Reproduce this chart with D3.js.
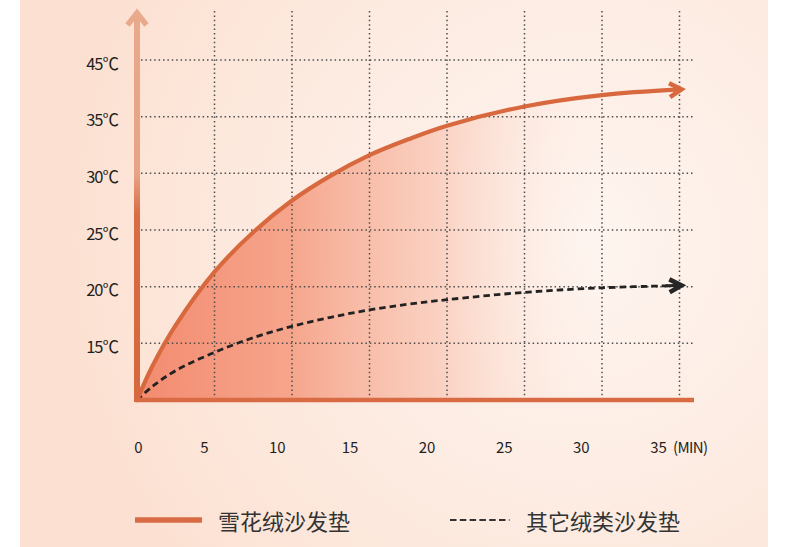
<!DOCTYPE html>
<html>
<head>
<meta charset="utf-8">
<script src="https://cdn.jsdelivr.net/npm/d3@7"></script>
<style>
  html, body { margin: 0; padding: 0; background: #fff; }
  svg { display: block; }
</style>
</head>
<body>
<svg id="chart" width="790" height="547"></svg>
<script>
// Heating time (minutes) and surface temperature (°C) for two sofa pads
const minutes    = [0, 1, 2.5, 5, 7.5, 10, 12.5, 15, 17.5, 20, 25, 30, 35];
const plushTemps = [10, 13.0, 16.6, 21.3, 24.8, 27.6, 29.8, 31.6, 33.0, 34.2, 35.9, 36.9, 37.4];
const otherTemps = [10, 11.2, 12.6, 14.2, 15.5, 16.5, 17.3, 17.95, 18.45, 18.85, 19.5, 19.9, 20.1];

const seriesNames = ["雪花绒沙发垫", "其它绒类沙发垫"];

const xTickValues = [0, 5, 10, 15, 20, 25, 30, 35];
const xTickLabels = ["0", "5", "10", "15", "20", "25", "30", "35"];
const xUnitLabel  = "(MIN)";

const yTickValues = [15, 20, 25, 30, 35, 40];
const yTickLabels = ["15℃", "20℃", "25℃", "30℃", "35℃", "45℃"];

const svg = d3.select("#chart");
const defs = svg.append("defs");
const FONT = "'Noto Sans CJK SC', 'Noto Sans', sans-serif";
const ORANGE = "#d8693f";
const TEXT = "#1f1f1f";

// Scales
const x = d3.scaleLinear().domain([0, 35]).range([137, 679.5]);
const y = d3.scaleLinear().domain([10, 40]).range([400, 60]);
// Minute labels sit slightly left of their gridlines and spread unevenly
const xLabel = d3.scaleLinear().domain([0, 5, 15, 35]).range([138, 204, 349.5, 658]);

// ---- background panel ----
const bg = defs.append("radialGradient").attr("id", "bgGrad")
  .attr("gradientUnits", "userSpaceOnUse")
  .attr("cx", 580).attr("cy", 240).attr("r", 520);
bg.append("stop").attr("offset", 0).attr("stop-color", "#fef5f0");
bg.append("stop").attr("offset", 0.55).attr("stop-color", "#fdebe1");
bg.append("stop").attr("offset", 1).attr("stop-color", "#fce1d2");

svg.append("rect").attr("width", 790).attr("height", 547).attr("fill", "#ffffff");
svg.append("rect").attr("x", 20).attr("y", 0).attr("width", 748).attr("height", 547)
  .attr("fill", "url(#bgGrad)");

// ---- area fill under the plush curve ----
const fillGrad = defs.append("linearGradient").attr("id", "fillGrad")
  .attr("gradientUnits", "userSpaceOnUse")
  .attr("x1", x(0)).attr("x2", x(35)).attr("y1", 0).attr("y2", 0);
[
  [0.00, "#f2866a", 0.95],
  [0.28, "#f59d82", 0.9],
  [0.55, "#f8bba6", 0.6],
  [0.72, "#fbd6c8", 0.25],
  [0.85, "#fde8df", 0.0]
].forEach(([o, c, a]) => fillGrad.append("stop")
  .attr("offset", o).attr("stop-color", c).attr("stop-opacity", a));

const plushData = minutes.map((m, i) => [m, plushTemps[i]]);
const otherData = minutes.map((m, i) => [m, otherTemps[i]]);

const curve = d3.curveCatmullRom.alpha(0.5);

const area = d3.area()
  .x(d => x(d[0])).y0(y(10)).y1(d => y(d[1]))
  .curve(curve);
svg.append("path").datum(plushData).attr("d", area).attr("fill", "url(#fillGrad)");

// ---- dotted grid ----
const grid = svg.append("g").attr("stroke", "#4d4d4d").attr("stroke-width", 1.5)
  .attr("stroke-dasharray", "1.5 2.9").attr("fill", "none");
grid.selectAll("line.v").data(xTickValues.slice(1)).join("line")
  .attr("class", "v")
  .attr("x1", d => x(d)).attr("x2", d => x(d))
  .attr("y1", 11).attr("y2", y(10));
grid.selectAll("line.h").data(yTickValues).join("line")
  .attr("class", "h")
  .attr("x1", 141).attr("x2", 693)
  .attr("y1", d => y(d)).attr("y2", d => y(d));

// ---- series lines ----
const line = d3.line().x(d => x(d[0])).y(d => y(d[1])).curve(curve);

svg.append("path").datum(otherData).attr("d", line)
  .attr("fill", "none").attr("stroke", "#222")
  .attr("stroke-width", 2.8).attr("stroke-dasharray", "6.5 4");

svg.append("path").datum(plushData).attr("d", line)
  .attr("fill", "none").attr("stroke", ORANGE)
  .attr("stroke-width", 4.2).attr("stroke-linecap", "round");

// Chevron arrowheads at each series end, aligned with the final segment
function arrowHead(data, color, width, len, half) {
  const n = data.length;
  const x1 = x(data[n - 2][0]), y1 = y(data[n - 2][1]);
  const x2 = x(data[n - 1][0]), y2 = y(data[n - 1][1]);
  const ang = Math.atan2(y2 - y1, x2 - x1);
  const tipX = x2 + 2 * Math.cos(ang), tipY = y2 + 2 * Math.sin(ang);
  const back = (d, s) => [tipX - d * Math.cos(ang) - s * Math.sin(ang),
                          tipY - d * Math.sin(ang) + s * Math.cos(ang)];
  const a = back(len, -half), b = back(len, half);
  svg.append("path")
    .attr("d", `M${a[0]},${a[1]}L${tipX},${tipY}L${b[0]},${b[1]}`)
    .attr("fill", "none").attr("stroke", color).attr("stroke-width", width)
    .attr("stroke-linejoin", "miter").attr("stroke-miterlimit", 10);
}
arrowHead(plushData, ORANGE, 4.5, 12, 7);
arrowHead(otherData, "#262626", 4.6, 12, 6.5);
// solid shaft just behind the dashed arrowhead
(function () {
  const n = otherData.length;
  svg.append("line")
    .attr("x1", x(otherData[n - 1][0]) - 14).attr("x2", x(otherData[n - 1][0]) - 2)
    .attr("y1", y(otherData[n - 1][1]) + 0.2).attr("y2", y(otherData[n - 1][1]))
    .attr("stroke", "#262626").attr("stroke-width", 3);
})();

// ---- axes lines ----
const axisGrad = defs.append("linearGradient").attr("id", "axisGrad")
  .attr("gradientUnits", "userSpaceOnUse")
  .attr("x1", 0).attr("x2", 0).attr("y1", 12).attr("y2", 400);
axisGrad.append("stop").attr("offset", 0).attr("stop-color", "#e9a98c");
axisGrad.append("stop").attr("offset", 0.42).attr("stop-color", "#e7a385");
axisGrad.append("stop").attr("offset", 0.52).attr("stop-color", "#d86c44");
axisGrad.append("stop").attr("offset", 1).attr("stop-color", "#d6673e");

svg.append("line")
  .attr("x1", x(0)).attr("x2", x(0)).attr("y1", y(10) + 2).attr("y2", 14)
  .attr("stroke", "url(#axisGrad)").attr("stroke-width", 6);
svg.append("path")
  .attr("d", `M${x(0) - 9.5},25L${x(0)},13L${x(0) + 9.5},25`)
  .attr("fill", "none").attr("stroke", "#e9a98c").attr("stroke-width", 5.5)
  .attr("stroke-linejoin", "miter");

svg.append("line")
  .attr("x1", x(0) - 2).attr("x2", 694).attr("y1", y(10)).attr("y2", y(10))
  .attr("stroke", "#d86b44").attr("stroke-width", 4.6);

// ---- tick labels ----
const yAxis = d3.axisLeft(y).tickValues(yTickValues)
  .tickFormat((d, i) => yTickLabels[i]).tickSize(0).tickPadding(0);
const gy = svg.append("g").attr("transform", "translate(118,0)").call(yAxis);
gy.select(".domain").remove();
gy.selectAll("text")
  .attr("dy", "0.55em").attr("fill", TEXT)
  .style("font-family", FONT).style("font-size", "16.5px")
  .style("letter-spacing", "-1px");

const xAxis = d3.axisBottom(xLabel).tickValues(xTickValues)
  .tickFormat((d, i) => xTickLabels[i]).tickSize(0).tickPadding(0);
const gx = svg.append("g").attr("transform", "translate(0,442)").call(xAxis);
gx.select(".domain").remove();
gx.selectAll("text")
  .attr("fill", TEXT)
  .style("font-family", FONT).style("font-size", "15px");

svg.append("text")
  .attr("x", 673).attr("y", 452.6)
  .attr("fill", TEXT)
  .style("font-family", FONT).style("font-size", "15px")
  .style("letter-spacing", "-0.6px")
  .text(xUnitLabel);

// ---- legend ----
const legendY = 520;
svg.append("line")
  .attr("x1", 135).attr("x2", 202).attr("y1", legendY).attr("y2", legendY)
  .attr("stroke", "#d86b44").attr("stroke-width", 5.5);
svg.append("line")
  .attr("x1", 450).attr("x2", 509.5).attr("y1", legendY).attr("y2", legendY)
  .attr("stroke", "#333").attr("stroke-width", 2).attr("stroke-dasharray", "6.5 3.3");

svg.selectAll("text.legend").data(seriesNames).join("text")
  .attr("class", "legend")
  .attr("x", (d, i) => i === 0 ? 218 : 526)
  .attr("y", legendY)
  .attr("dominant-baseline", "central")
  .attr("fill", "#333")
  .style("font-family", FONT).style("font-size", "22px")
  .text(d => d);
</script>
</body>
</html>
